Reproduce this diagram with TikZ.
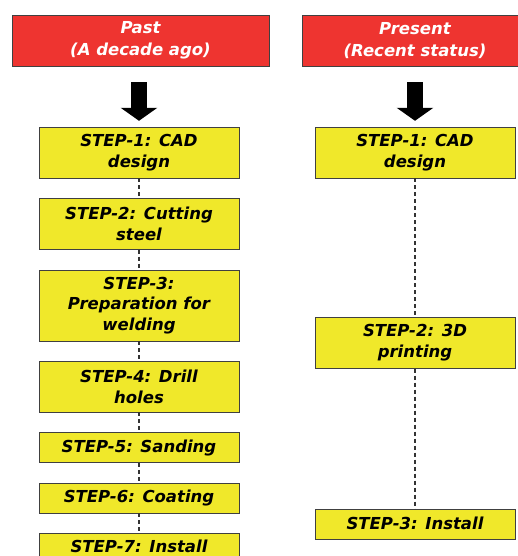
\documentclass[tikz,border=0pt]{standalone}
\usepackage{fontspec}
\setmainfont{DejaVu Sans}
\usetikzlibrary{positioning}
\usetikzlibrary{arrows.meta}
\usepackage{xcolor}
\definecolor{hdrred}{HTML}{EE3430}
\definecolor{stepyellow}{HTML}{F0E82A}

\begin{document}
\begin{tikzpicture}[x=1pt, y=1pt, node distance=20pt,
  hdr/.style={draw=black!75, fill=hdrred, text=white, minimum width=257pt, minimum height=51pt, inner sep=1pt, align=center, font=\bfseries\itshape\fontsize{16.5}{22}\selectfont},
  stepbox/.style={draw=black!75, fill=stepyellow, minimum width=200pt, inner sep=1pt, align=center, font=\bfseries\itshape\fontsize{16.5}{20.5}\selectfont},
  oneline/.style={minimum height=30pt},
  twolines/.style={minimum height=51pt},
  threelines/.style={minimum height=71pt},
  link/.style={dash pattern=on 4pt off 3pt, line width=1.4pt, black!80},
  bigarrow/.style={-{Triangle[length=13pt,width=36pt]}, line width=16pt}]
  \clip (0,0) rectangle (518,-556);
  % headers
  \node (past) [hdr] at (140.5,-40.5) {Past\\(A decade ago)};
  \node (present) [hdr, minimum width=226pt] at (415,-40.5) {Present\\(Recent status)};
  % past steps
  \node (p1) [stepbox, twolines] at (139,-152.5) {STEP-1: CAD\\design};
  \node (p2) [stepbox, twolines, below=of p1] {STEP-2: Cutting\\steel};
  \node (p3) [stepbox, threelines, below=of p2] {STEP-3:\\Preparation for\\welding};
  \node (p4) [stepbox, twolines, below=of p3] {STEP-4: Drill\\holes};
  \node (p5) [stepbox, oneline, below=of p4] {STEP-5: Sanding};
  \node (p6) [stepbox, oneline, below=of p5] {STEP-6: Coating};
  \node (p7) [stepbox, minimum height=26pt, below=of p6] {STEP-7: Install};
  % present steps
  \node (q1) [stepbox, twolines] at (415,-152.5) {STEP-1: CAD\\design};
  \node (q2) [stepbox, twolines, below=139pt of q1] {STEP-2: 3D\\printing};
  \node (q3) [stepbox, oneline, below=140pt of q2] {STEP-3: Install};
  % arrows
  \path (past.south -| p1.north) coordinate (pastTop);
  \path (present.south -| q1.north) coordinate (presentTop);
  \draw[bigarrow] ([yshift=-16pt]pastTop) -- ([yshift=6pt]p1.north);
  \draw[bigarrow] ([yshift=-16pt]presentTop) -- ([yshift=6pt]q1.north);
  \draw[link] (p1) -- (p2);
  \draw[link] (p2) -- (p3);
  \draw[link] (p3) -- (p4);
  \draw[link] (p4) -- (p5);
  \draw[link] (p5) -- (p6);
  \draw[link] (p6) -- (p7);
  \draw[link] (q1) -- (q2);
  \draw[link] (q2) -- (q3);
\end{tikzpicture}
\end{document}
